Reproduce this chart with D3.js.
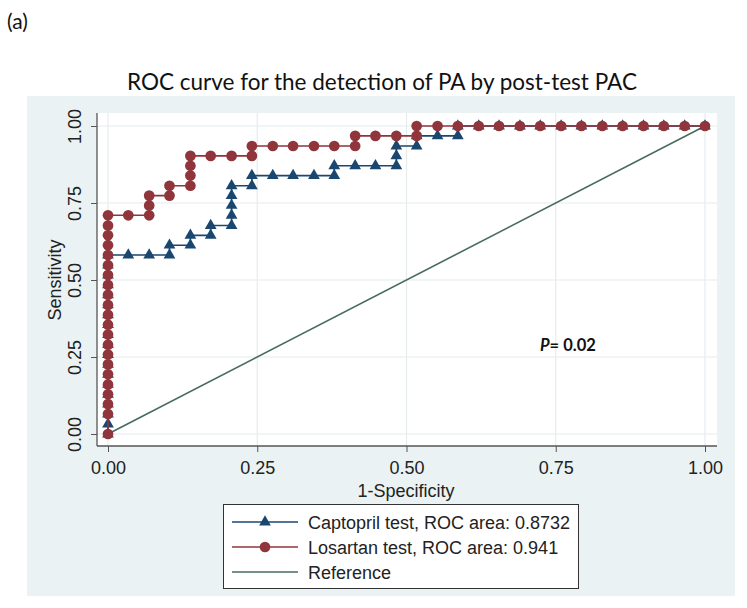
<!DOCTYPE html>
<html><head><meta charset="utf-8">
<script src="https://cdn.jsdelivr.net/npm/d3@7"></script>
<style>body{margin:0;background:#fff}svg{display:block}</style>
</head><body>
<script>
// ---- data ----
const xTicks = [0, 0.25, 0.5, 0.75, 1];
const yTicks = [0, 0.25, 0.5, 0.75, 1];
const xTickLabels = ["0.00", "0.25", "0.50", "0.75", "1.00"];
const yTickLabels = ["0.00", "0.25", "0.50", "0.75", "1.00"];

const captoprilFPR = [0,0,0,0,0,0,0,0,0,0,0,0,0,0,0,0,0,0,0,
  0.034,0.069,0.103,0.103,0.138,0.138,0.172,0.172,0.207,0.207,0.207,0.207,0.207,
  0.241,0.241,0.276,0.310,0.345,0.379,0.379,0.414,0.448,0.483,0.483,0.483,0.517,0.517,0.552,0.586,0.586,
  0.621,0.655,0.690,0.724,0.759,0.793,0.828,0.862,0.897,0.931,0.966,1];
const captoprilTPR = [0,0.032,0.065,0.097,0.129,0.161,0.194,0.226,0.258,0.290,0.323,0.355,0.387,0.419,0.452,0.484,0.516,0.548,0.581,
  0.581,0.581,0.581,0.613,0.613,0.645,0.645,0.677,0.677,0.710,0.742,0.774,0.806,
  0.806,0.839,0.839,0.839,0.839,0.839,0.871,0.871,0.871,0.871,0.903,0.935,0.935,0.968,0.968,0.968,1,
  1,1,1,1,1,1,1,1,1,1,1,1];

const losartanFPR = [0,0,0,0,0,0,0,0,0,0,0,0,0,0,0,0,0,0,0,0,0,0,
  0.034,0.069,0.069,0.069,0.103,0.103,0.138,0.138,0.138,0.138,0.172,0.207,0.241,0.241,
  0.276,0.310,0.345,0.379,0.414,0.414,0.448,0.483,0.517,0.517,
  0.552,0.586,0.621,0.655,0.690,0.724,0.759,0.793,0.828,0.862,0.897,0.931,0.966,1];
const losartanTPR = [0,0.065,0.097,0.129,0.161,0.194,0.226,0.258,0.290,0.323,0.355,0.387,0.419,0.452,0.484,0.516,0.548,0.581,0.613,0.645,0.677,0.710,
  0.710,0.710,0.742,0.774,0.774,0.806,0.806,0.839,0.871,0.903,0.903,0.903,0.903,0.935,
  0.935,0.935,0.935,0.935,0.935,0.968,0.968,0.968,0.968,1,
  1,1,1,1,1,1,1,1,1,1,1,1,1,1];

const referenceX = [0, 1];
const referenceY = [0, 1];

const legendLabels = ["Captopril test, ROC area: 0.8732", "Losartan test, ROC area: 0.941", "Reference"];
const titleText = "ROC curve for the detection of PA by post-test PAC";

// ---- drawing ----
const W = 747, H = 608;
const navy = "#1a476f", maroon = "#90353b", refCol = "#476b5d";
const axFont = "'Liberation Sans', Arial, sans-serif";
const svg = d3.select("body").append("svg").attr("width", W).attr("height", H);
svg.append("rect").attr("width", W).attr("height", H).attr("fill", "#fff");

svg.append("text").attr("x", 7).attr("y", 29).attr("font-family", "Lato, 'Open Sans', sans-serif")
  .attr("font-size", 21).attr("fill", "#111").text("(a)");

svg.append("text").attr("x", 382).attr("y", 90).attr("text-anchor", "middle")
  .attr("font-family", "Lato, 'Open Sans', sans-serif").attr("font-size", 22.5).attr("fill", "#111").text(titleText);

// panels
svg.append("rect").attr("x", 27).attr("y", 96).attr("width", 708).attr("height", 500).attr("fill", "#eaf2f3");
svg.append("rect").attr("x", 97).attr("y", 113).attr("width", 620).attr("height", 333).attr("fill", "#fff");

const x = d3.scaleLinear().domain([0, 1]).range([108, 705]);
const y = d3.scaleLinear().domain([0, 1]).range([434, 126]);

// grid
const grid = svg.append("g").attr("stroke", "#e6ecee").attr("stroke-width", 1.2);
grid.selectAll(".gx").data(xTicks).enter().append("line")
  .attr("x1", d => x(d)).attr("x2", d => x(d)).attr("y1", 113).attr("y2", 446);
grid.selectAll(".gy").data(yTicks).enter().append("line")
  .attr("y1", d => y(d)).attr("y2", d => y(d)).attr("x1", 97).attr("x2", 717);

// axes
const xAxis = svg.append("g").attr("transform", "translate(0,446)")
  .call(d3.axisBottom(x).tickValues(xTicks).tickFormat((d, i) => xTickLabels[i]).tickSize(6).tickPadding(9));
xAxis.select(".domain").remove();
xAxis.selectAll("line").attr("stroke", "#555");
xAxis.selectAll("text").attr("font-family", axFont).attr("font-size", 18).attr("fill", "#222");

const yAxis = svg.append("g").attr("transform", "translate(97,0)")
  .call(d3.axisLeft(y).tickValues(yTicks).tickFormat((d, i) => yTickLabels[i]).tickSize(6));
yAxis.select(".domain").remove();
yAxis.selectAll("line").attr("stroke", "#555");
yAxis.selectAll("text").attr("font-family", axFont).attr("font-size", 18).attr("fill", "#222")
  .attr("x", 0).attr("dy", null).attr("text-anchor", "middle").attr("transform", "translate(-16,0) rotate(-90)");

svg.append("line").attr("x1", 97).attr("x2", 717).attr("y1", 446).attr("y2", 446).attr("stroke", "#555").attr("stroke-width", 1.3);
svg.append("line").attr("x1", 97).attr("x2", 97).attr("y1", 113).attr("y2", 446).attr("stroke", "#555").attr("stroke-width", 1.3);

svg.append("text").attr("x", 406).attr("y", 497).attr("text-anchor", "middle")
  .attr("font-family", axFont).attr("font-size", 18).attr("fill", "#222").text("1-Specificity");
svg.append("text").attr("transform", "translate(61,280) rotate(-90)").attr("text-anchor", "middle")
  .attr("font-family", axFont).attr("font-size", 18).attr("fill", "#222").text("Sensitivity");

// series
const line = d3.line().x(d => x(d[0])).y(d => y(d[1]));
const refPts = d3.zip(referenceX, referenceY);
const capPts = d3.zip(captoprilFPR, captoprilTPR);
const losPts = d3.zip(losartanFPR, losartanTPR);

svg.append("path").attr("d", line(refPts)).attr("fill", "none").attr("stroke", refCol).attr("stroke-width", 1.6);

const tri = d3.symbol().type(d3.symbolTriangle).size(60);
const circ = d3.symbol().type(d3.symbolCircle).size(90);

svg.append("path").attr("d", line(capPts)).attr("fill", "none").attr("stroke", navy).attr("stroke-width", 1.6);
svg.selectAll(".cap").data(capPts).enter().append("path")
  .attr("d", tri).attr("transform", d => `translate(${x(d[0])},${y(d[1])})`).attr("fill", navy);

svg.append("path").attr("d", line(losPts)).attr("fill", "none").attr("stroke", maroon).attr("stroke-width", 1.6);
svg.selectAll(".los").data(losPts).enter().append("path")
  .attr("d", circ).attr("transform", d => `translate(${x(d[0])},${y(d[1])})`).attr("fill", maroon);

// P value
const pt = svg.append("text").attr("x", 540).attr("y", 351).attr("font-family", "Lato, 'Open Sans', sans-serif")
  .attr("font-size", 16.5).attr("font-weight", "bold").attr("fill", "#111");
pt.append("tspan").attr("font-style", "italic").text("P");
pt.append("tspan").text("= 0.02");

// legend
const lg = svg.append("g");
lg.append("rect").attr("x", 223.5).attr("y", 504.5).attr("width", 355).attr("height", 84)
  .attr("fill", "#fff").attr("stroke", "#333").attr("stroke-width", 1);
const legendCols = [navy, maroon, refCol];
const legendSym = [tri, circ, null];
legendLabels.forEach((lab, i) => {
  const cy = 522 + i * 25;
  lg.append("line").attr("x1", 232).attr("x2", 298).attr("y1", cy).attr("y2", cy)
    .attr("stroke", legendCols[i]).attr("stroke-width", 1.6);
  if (legendSym[i]) lg.append("path").attr("d", legendSym[i]).attr("transform", `translate(265,${cy})`).attr("fill", legendCols[i]);
  lg.append("text").attr("x", 308).attr("y", cy + 6.5).attr("font-family", axFont).attr("font-size", 18)
    .attr("fill", "#222").text(lab);
});
</script>
</body></html>
